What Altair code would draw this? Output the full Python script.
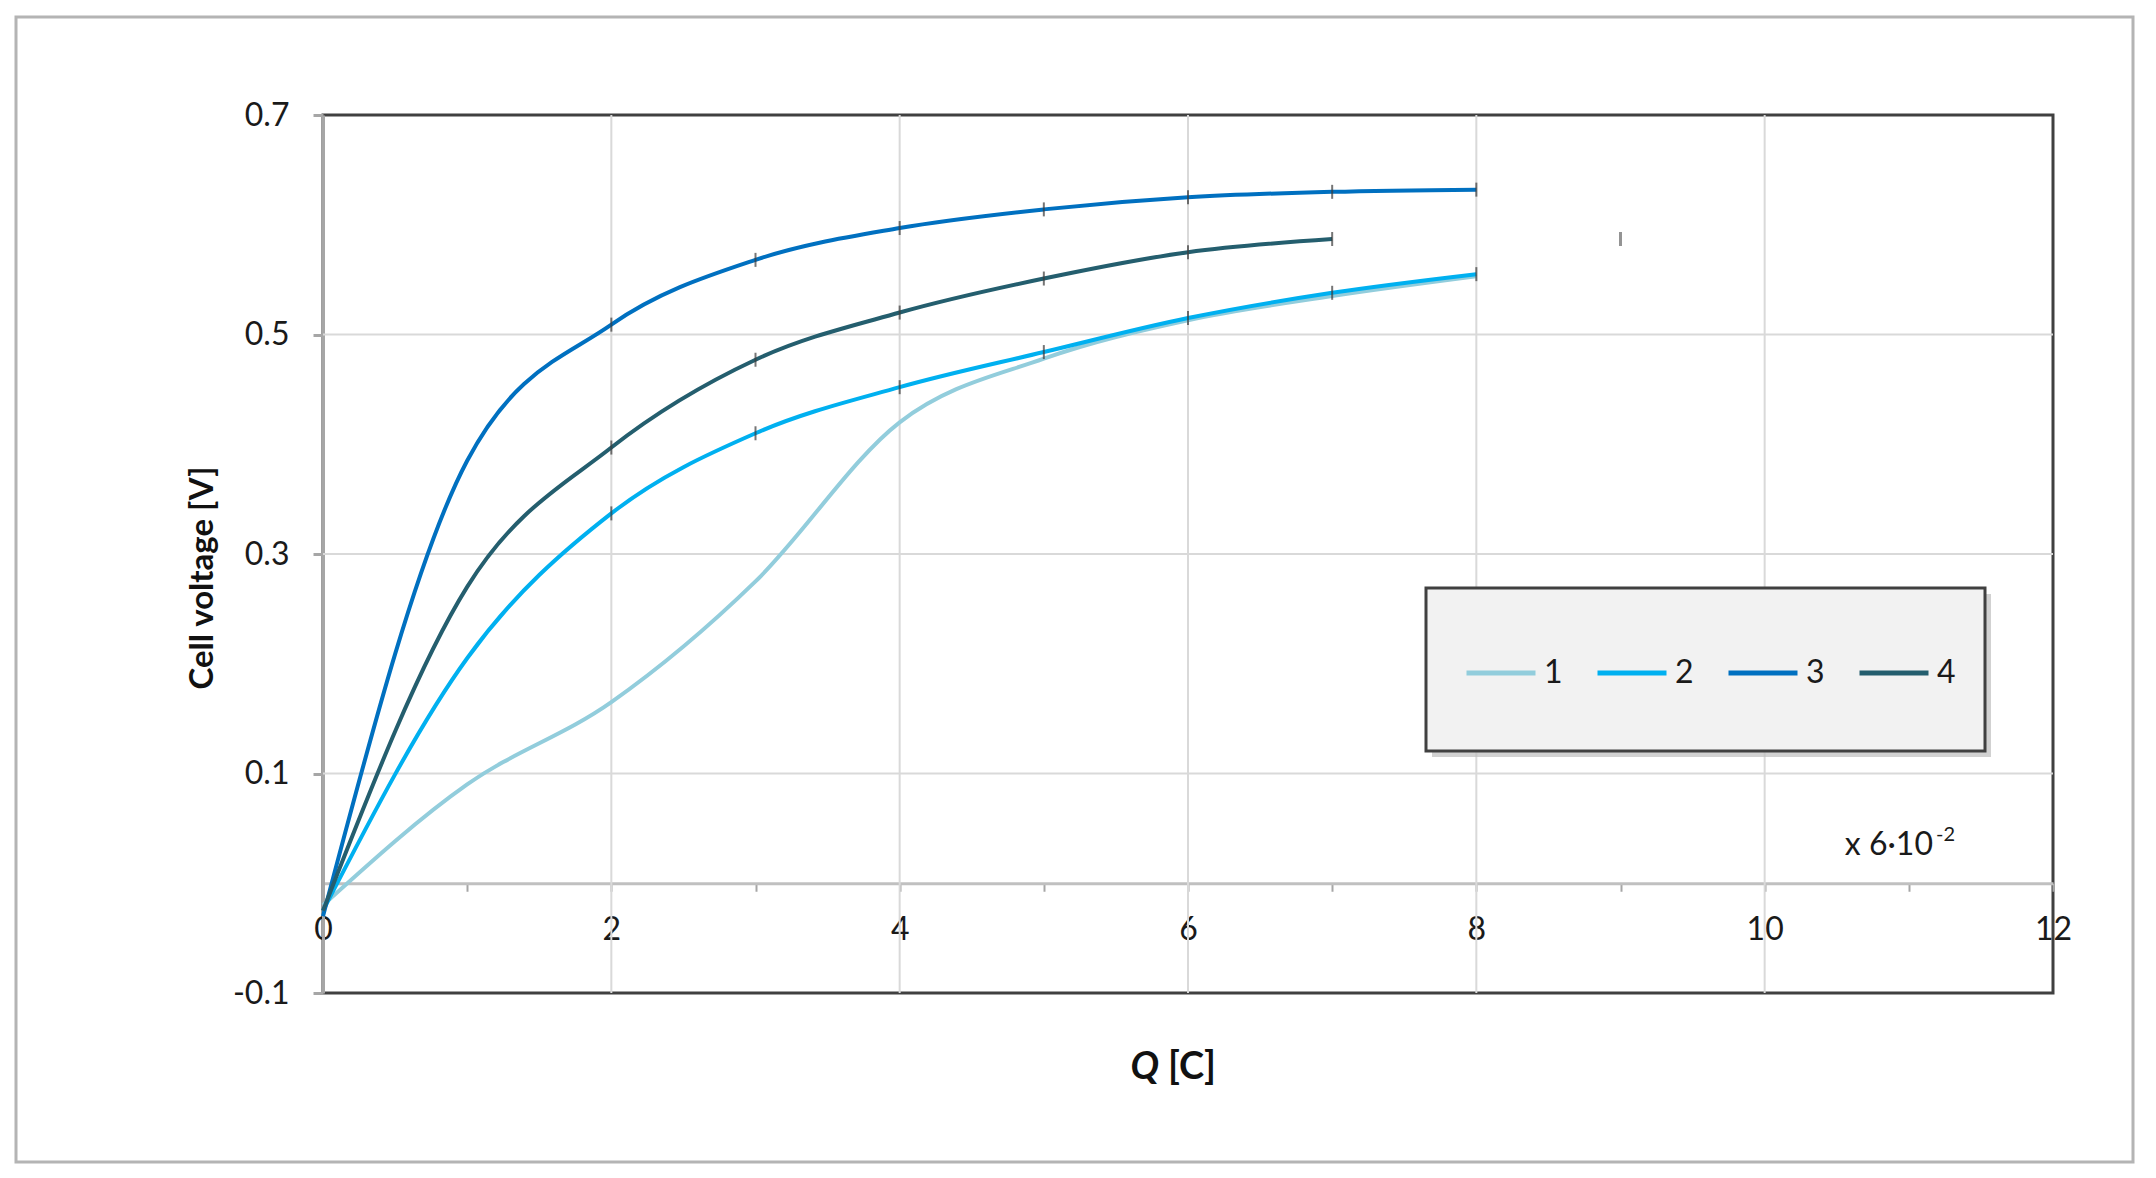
import altair as alt
import pandas as pd

# ---- data ----
Q = [0, 1, 2, 3, 4, 5, 6, 7, 8]
S1 = [-0.02, 0.09, 0.165, 0.275, 0.42, 0.478, 0.513, 0.535, 0.553]
S2 = [-0.025, 0.205, 0.337, 0.41, 0.452, 0.484, 0.515, 0.538, 0.555]
S3 = [-0.03, 0.385, 0.509, 0.568, 0.597, 0.614, 0.625, 0.630, 0.632]
S4 = [-0.025, 0.27, 0.397, 0.477, 0.52, 0.551, 0.575, 0.587]
SERIES = ["1", "2", "3", "4"]
COLORS = ["#92CDDC", "#00B0F0", "#0070C0", "#245E6E"]
LONE_X = [9]
LONE_Y = [0.587]

X_TICKS = list(range(0, 13))
Y_TICKS = [-0.1, 0.1, 0.3, 0.5, 0.7]
GRID_X = [2, 4, 6, 8, 10]
GRID_Y = [0.1, 0.3, 0.5]

FONT = "Lato"
W, H = 1730, 878

rows = []
for name, vals in zip(SERIES, [S1, S2, S3, S4]):
    for q, v in zip(Q, vals):
        rows.append({"series": name, "q": q, "v": v, "order": SERIES.index(name)})
df = pd.DataFrame(rows)
markers = df[(df.series != "1") & (df.q > 1)]
lone = pd.DataFrame({"q": LONE_X, "v": LONE_Y})

xscale = alt.Scale(domain=[0, 12], nice=False, zero=False)
yscale = alt.Scale(domain=[-0.1, 0.7], nice=False, zero=False)

ylabel = "datum.value < 0 ? '-' + format(-datum.value, '.1f') : format(datum.value, '.1f')"
xlabel = "datum.value % 2 == 0 ? format(datum.value, 'd') : ''"

xaxis = alt.Axis(values=X_TICKS, labelExpr=xlabel,
                 offset=-H / 8, grid=False, title=None,
                 domainColor="#c0c0c0", domainWidth=3,
                 tickColor="#a6a6a6", tickSize=8, tickWidth=2,
                 labelFont=FONT, labelFontSize=32, labelColor="#1a1a1a",
                 labelPadding=38, labelBaseline="middle",
                 labelFlush=False, labelOverlap=False, labelBound=False)
yaxis = alt.Axis(values=Y_TICKS, labelExpr=ylabel, grid=False, title=None,
                 domainColor="#a6a6a6", domainWidth=3,
                 tickColor="#a6a6a6", tickSize=10, tickWidth=3,
                 labelFont=FONT, labelFontSize=32, labelColor="#1a1a1a",
                 labelPadding=24, labelOverlap=False, labelBound=False)

base = alt.Chart(pd.DataFrame({"a": [0]}))

frame = base.mark_rect(fill=None, stroke="#b4b4b4", strokeWidth=3).encode(
    x=alt.value(-307), x2=alt.value(1810), y=alt.value(-98), y2=alt.value(1047))

gx = alt.Chart(pd.DataFrame({"g": GRID_X})).mark_rule(color="#d9d9d9", strokeWidth=2).encode(
    x=alt.X("g:Q", scale=xscale, axis=xaxis))
gy = alt.Chart(pd.DataFrame({"g": GRID_Y})).mark_rule(color="#d9d9d9", strokeWidth=2).encode(
    y=alt.Y("g:Q", scale=yscale, axis=yaxis))

lines = alt.Chart(df).mark_line(interpolate="monotone", strokeWidth=4).encode(
    x=alt.X("q:Q", scale=xscale, axis=xaxis),
    y=alt.Y("v:Q", scale=yscale, axis=yaxis),
    color=alt.Color("series:N", scale=alt.Scale(domain=SERIES, range=COLORS),
                    legend=alt.Legend(orient="none", legendX=1141, legendY=521,
                                      direction="horizontal", title=None,
                                      symbolType="stroke", symbolSize=4761,
                                      symbolStrokeWidth=5, labelFont=FONT,
                                      labelFontSize=32, labelColor="#1a1a1a",
                                      labelOffset=6, columnPadding=24, padding=0)),
    order="order:Q",
    detail="series:N")

ticks = alt.Chart(markers).mark_tick(orient="vertical", size=14, thickness=2, color="#3a3a3a").encode(
    x=alt.X("q:Q", scale=xscale), y=alt.Y("v:Q", scale=yscale))
lone_m = alt.Chart(lone).mark_tick(orient="vertical", size=14, thickness=3, color="#666666").encode(
    x=alt.X("q:Q", scale=xscale), y=alt.Y("v:Q", scale=yscale))

shadow = base.mark_rect(fill="#bdbdbd", opacity=0.7).encode(
    x=alt.value(1109), x2=alt.value(1668), y=alt.value(479), y2=alt.value(642))
box = base.mark_rect(fill="#f2f2f2", stroke="#404040", strokeWidth=3).encode(
    x=alt.value(1103), x2=alt.value(1662), y=alt.value(473), y2=alt.value(636))

unit = base.mark_text(font=FONT, fontSize=32, color="#1a1a1a", align="right", baseline="middle").encode(
    x=alt.value(1610), y=alt.value(730), text=alt.value("x 6·10"))
sup = base.mark_text(font=FONT, fontSize=20, color="#1a1a1a", align="left", baseline="middle").encode(
    x=alt.value(1613), y=alt.value(720), text=alt.value("-2"))

xt1 = base.mark_text(font=FONT, fontSize=38, fontWeight="bold", fontStyle="italic", color="#111111",
                     align="right", baseline="middle").encode(
    x=alt.value(836), y=alt.value(953), text=alt.value("Q"))
xt2 = base.mark_text(font=FONT, fontSize=38, fontWeight="bold", color="#111111",
                     align="left", baseline="middle").encode(
    x=alt.value(845), y=alt.value(953), text=alt.value("[C]"))
yt = base.mark_text(font=FONT, fontSize=33, fontWeight="bold", color="#111111", angle=270,
                    align="center", baseline="middle").encode(
    x=alt.value(-120), y=alt.value(463), text=alt.value("Cell voltage [V]"))

chart = alt.layer(frame, gx, gy, lines, ticks, lone_m, shadow, box, unit, sup, xt1, xt2, yt).properties(
    width=W, height=H,
    padding={"left": 315, "top": 107, "right": 90, "bottom": 176},
    autosize=alt.AutoSizeParams(type="none"),
    background="white",
).configure_view(stroke="#404040", strokeWidth=3)

chart.save("out.html", embed_options={"renderer": "svg", "actions": False})
